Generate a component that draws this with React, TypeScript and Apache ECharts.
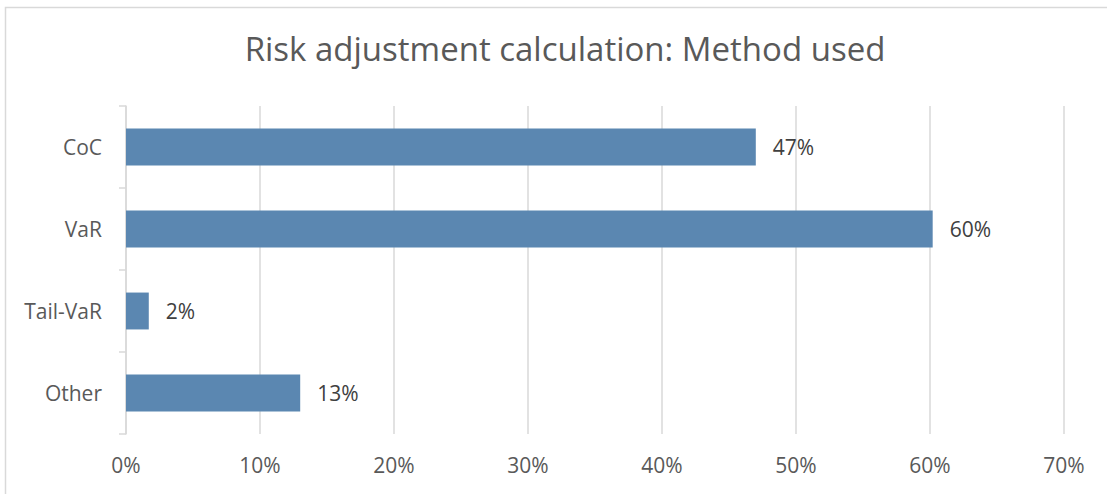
import React, { useEffect, useRef } from "react";
import * as echarts from "echarts";

const categories = ["CoC", "VaR", "Tail-VaR", "Other"];
const values = [47.0, 60.2, 1.7, 13.0];
const xTicks = [0, 10, 20, 30, 40, 50, 60, 70];
const titleText = "Risk adjustment calculation: Method used";

const FONT = "'Open Sans', 'Noto Sans', sans-serif";

export default function App() {
  const ref = useRef<HTMLDivElement>(null);
  useEffect(() => {
    if (!ref.current) return;
    const chart = echarts.init(ref.current, null, { renderer: "svg" });
    chart.setOption({
      animation: false,
      backgroundColor: "#ffffff",
      textStyle: { fontFamily: FONT },
      title: {
        text: titleText,
        left: 560,
        top: 27,
        textAlign: "center",
        textStyle: { fontFamily: FONT, fontSize: 33, fontWeight: "normal", color: "#595959" },
      },
      graphic: [
        {
          type: "rect",
          shape: { x: 5.5, y: 7.5, width: 1120, height: 500 },
          style: { fill: "none", stroke: "#d9d9d9", lineWidth: 1.5 },
          silent: true,
          z: -1,
        },
      ],
      grid: { left: 126, right: 43, top: 106, bottom: 60, containLabel: false },
      xAxis: {
        type: "value",
        min: xTicks[0],
        max: xTicks[xTicks.length - 1],
        interval: 10,
        axisLine: { show: false },
        axisTick: { show: false },
        axisLabel: {
          formatter: (v: number) => v + "%",
          fontFamily: FONT,
          fontSize: 21,
          color: "#595959",
          margin: 20,
        },
        splitLine: { show: true, lineStyle: { color: "#d9d9d9", width: 1.5 } },
      },
      yAxis: {
        type: "category",
        data: categories,
        inverse: true,
        axisLine: { show: true, lineStyle: { color: "#d9d9d9", width: 1.5 } },
        axisTick: { show: true, length: 7, lineStyle: { color: "#d9d9d9", width: 1.5 } },
        axisLabel: { fontFamily: FONT, fontSize: 21, color: "#595959", margin: 24 },
      },
      series: [
        {
          type: "bar",
          data: values,
          barWidth: "45%",
          itemStyle: { color: "#5b87b1" },
          label: {
            show: true,
            position: "right",
            distance: 17,
            formatter: (p: any) => Math.round(p.value) + "%",
            fontFamily: FONT,
            fontSize: 21,
            color: "#404040",
          },
        },
      ],
    });
    return () => chart.dispose();
  }, []);
  return (
    <div
      ref={ref}
      style={{ position: "absolute", left: 0, top: 0, width: 1107, height: 494 }}
    />
  );
}
